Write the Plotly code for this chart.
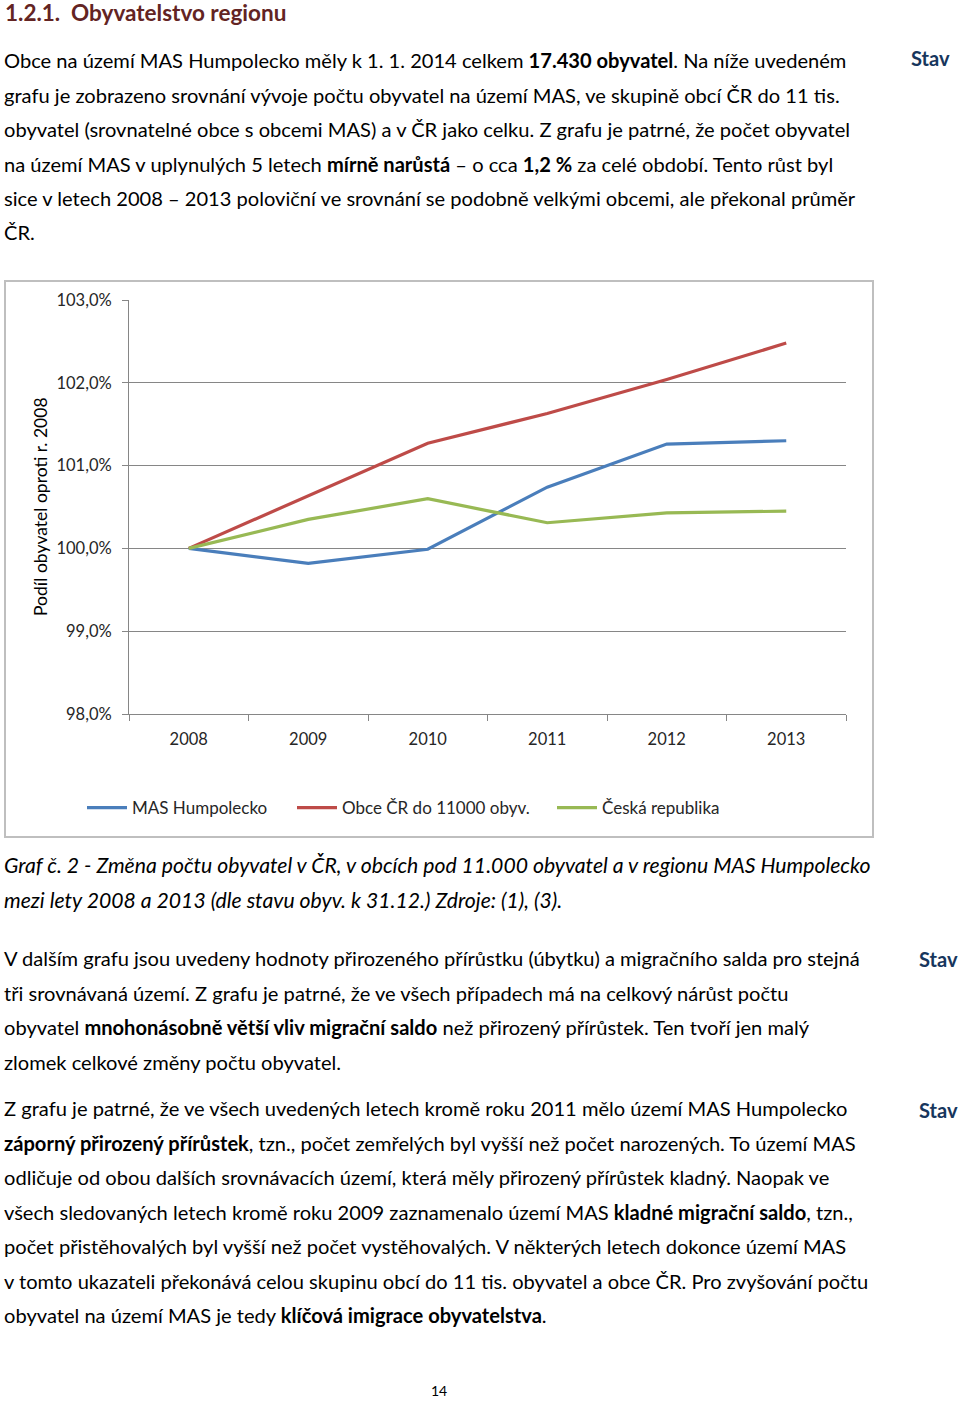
import plotly.graph_objects as go

years = ["2008", "2009", "2010", "2011", "2012", "2013"]
mas_humpolecko = [100.00, 99.82, 99.99, 100.74, 101.26, 101.30]
obce_do_11000 = [100.00, 100.64, 101.27, 101.63, 102.04, 102.48]
ceska_republika = [100.00, 100.35, 100.60, 100.31, 100.43, 100.45]

series_names = ["MAS Humpolecko", "Obce ČR do 11000 obyv.", "Česká republika"]
series_colors = ["#4A7EBB", "#BE4B48", "#98B954"]

heading = "1.2.1.  Obyvatelstvo regionu"
para1 = [
    "Obce na území MAS Humpolecko měly k 1. 1. 2014 celkem <b>17.430 obyvatel</b>. Na níže uvedeném",
    "grafu je zobrazeno srovnání vývoje počtu obyvatel na území MAS, ve skupině obcí ČR do 11 tis.",
    "obyvatel (srovnatelné obce s obcemi MAS) a v ČR jako celku. Z grafu je patrné, že počet obyvatel",
    "na území MAS v uplynulých 5 letech <b>mírně narůstá</b> – o cca <b>1,2 %</b> za celé období. Tento růst byl",
    "sice v letech 2008 – 2013 poloviční ve srovnání se podobně velkými obcemi, ale překonal průměr",
    "ČR.",
]
caption = [
    "<i>Graf č. 2 - Změna počtu obyvatel v ČR, v obcích pod 11.000 obyvatel a v regionu MAS Humpolecko</i>",
    "<i>mezi lety 2008 a 2013 (dle stavu obyv. k 31.12.) Zdroje: (1), (3).</i>",
]
para2 = [
    "V dalším grafu jsou uvedeny hodnoty přirozeného přírůstku (úbytku) a migračního salda pro stejná",
    "tři srovnávaná území. Z grafu je patrné, že ve všech případech má na celkový nárůst počtu",
    "obyvatel <b>mnohonásobně větší vliv migrační saldo</b> než přirozený přírůstek. Ten tvoří jen malý",
    "zlomek celkové změny počtu obyvatel.",
]
para3 = [
    "Z grafu je patrné, že ve všech uvedených letech kromě roku 2011 mělo území MAS Humpolecko",
    "<b>záporný přirozený přírůstek</b>, tzn., počet zemřelých byl vyšší než počet narozených. To území MAS",
    "odličuje od obou dalších srovnávacích území, která měly přirozený přírůstek kladný. Naopak ve",
    "všech sledovaných letech kromě roku 2009 zaznamenalo území MAS <b>kladné migrační saldo</b>, tzn.,",
    "počet přistěhovalých byl vyšší než počet vystěhovalých. V některých letech dokonce území MAS",
    "v tomto ukazateli překonává celou skupinu obcí do 11 tis. obyvatel a obce ČR. Pro zvyšování počtu",
    "obyvatel na území MAS je tedy <b>klíčová imigrace obyvatelstva</b>.",
]
side_label = "Stav"
y_title = "Podíl obyvatel oproti r. 2008"
page_number = "14"

W, H = 960, 1401
L, R, T, B = 129, 846, 300, 714


def px(x):
    return (x - L) / (R - L)


def py(y):
    return (B - y) / (B - T)


FONT = "Lato"
BODY = 20.1

fig = go.Figure()
legend_ids = ["legend", "legend2", "legend3"]
legend_x = [90, 300, 560]
for name, vals, col, lid in zip(series_names, [mas_humpolecko, obce_do_11000, ceska_republika],
                                series_colors, legend_ids):
    fig.add_trace(go.Scatter(x=years, y=vals, mode="lines", name=name, legend=lid,
                             line=dict(color=col, width=3.2)))

annotations = []


def text(x, y, s, size=BODY, color="#000000", anchor="left", **kw):
    annotations.append(dict(x=px(x), y=py(y), xref="paper", yref="paper", text=s,
                            showarrow=False, xanchor=anchor, yanchor="middle",
                            font=dict(family=FONT, size=size, color=color), **kw))


text(3, 12, "<b>" + heading + "</b>", size=22.5, color="#632423")
for i, s in enumerate(para1):
    text(2, 60 + i * 34.5, s)
text(909, 58, "<b>" + side_label + "</b>", color="#17365D")
for i, s in enumerate(caption):
    text(2, 865 + i * 34.5, s, size=21.2)
for i, s in enumerate(para2):
    text(2, 958 + i * 34.5, s)
text(917, 959, "<b>" + side_label + "</b>", color="#17365D")
for i, s in enumerate(para3):
    text(2, 1108 + i * 34.5, s)
text(917, 1110, "<b>" + side_label + "</b>", color="#17365D")
text(439, 1391, page_number, size=14, anchor="center")
text(40, 507, y_title, size=17.5, anchor="center", textangle=-90)

shapes = [dict(type="rect", xref="paper", yref="paper", x0=px(5), x1=px(873), y0=py(281), y1=py(837),
               line=dict(color="#BFBFBF", width=2), fillcolor="rgba(0,0,0,0)", layer="below")]

legend_common = dict(orientation="h", xanchor="left", yanchor="middle",
                     font=dict(family=FONT, size=17, color="#262626"), itemwidth=40,
                     bgcolor="rgba(0,0,0,0)", borderwidth=0)

fig.update_layout(
    width=W, height=H,
    margin=dict(l=L, r=W - R, t=T, b=H - B, pad=0),
    paper_bgcolor="white", plot_bgcolor="white",
    separators=", ",
    font=dict(family=FONT, size=16, color="#262626"),
    showlegend=True,
    legend=dict(x=px(legend_x[0] - 8), y=py(808), **legend_common),
    legend2=dict(x=px(legend_x[1] - 8), y=py(808), **legend_common),
    legend3=dict(x=px(legend_x[2] - 8), y=py(808), **legend_common),
    annotations=annotations,
    shapes=shapes,
    xaxis=dict(type="category", range=[-0.5, 5.5], showgrid=False, showline=True,
               linecolor="#868686", linewidth=1, ticks="outside", tickson="boundaries",
               ticklen=6, tickcolor="#868686", tickfont=dict(family=FONT, size=16.5, color="#262626"),
               ticklabelstandoff=10, zeroline=False, fixedrange=True),
    yaxis=dict(range=[98, 103], dtick=1, tickformat=".1f", ticksuffix="%", showgrid=True,
               gridcolor="#868686", gridwidth=1, showline=True, linecolor="#868686", linewidth=1,
               ticks="outside", ticklen=6, tickcolor="#868686", ticklabelstandoff=7,
               tickfont=dict(family=FONT, size=16.5, color="#262626"), zeroline=False),
)

fig.write_html("out.html", config={"displayModeBar": False},
               post_script="document.body.style.margin='0';document.body.style.padding='0';")
